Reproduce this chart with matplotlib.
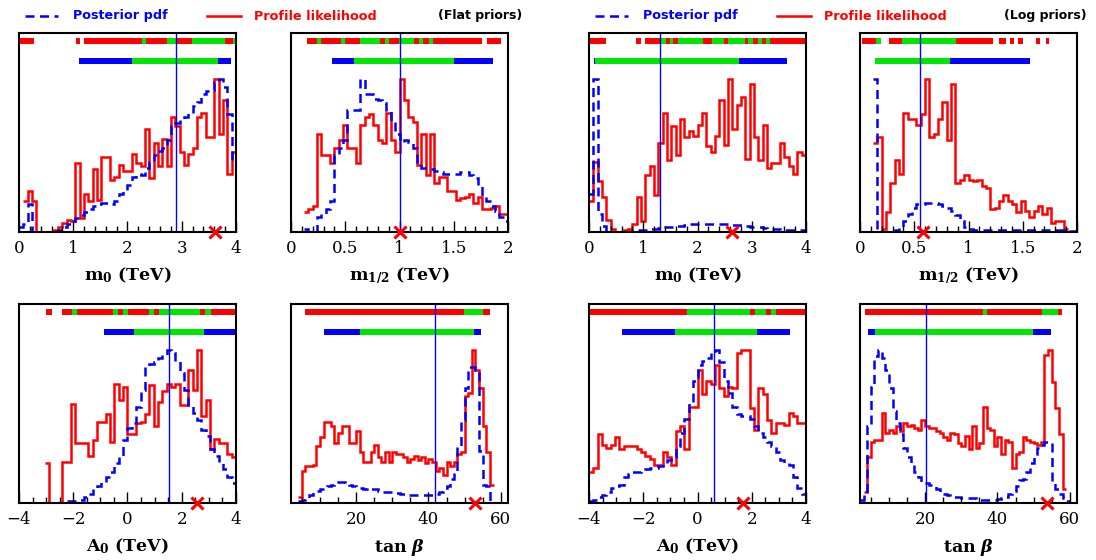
import numpy as np
import matplotlib.pyplot as plt
from matplotlib.lines import Line2D
from matplotlib.ticker import MultipleLocator

# ---------------- data: flat priors ----------------
# m0 (TeV), 50 bins on [0, 4]
m0_flat_pdf = [0.03, 0.05, 0.18, 0, 0, 0, 0, 0, 0, 0.01,
               0.03, 0.05, 0.07, 0.09, 0.11, 0.13, 0.15, 0.17, 0.18, 0.19,
               0.19, 0.18, 0.2, 0.25, 0.27, 0.31, 0.36, 0.38, 0.37, 0.42,
               0.46, 0.5, 0.53, 0.55, 0.6, 0.69, 0.71, 0.73, 0.75, 0.78,
               0.82, 0.85, 0.9, 0.92, 0.93, 0.98, 1.0, 0.95, 0.77, 0.45]
m0_flat_pl = [0, 0.2, 0.27, 0.2, 0, 0, 0, 0, 0.01, 0.03,
              0.06, 0.08, 0.07, 0.45, 0.09, 0.25, 0.2, 0.41, 0.21, 0.49,
              0.49, 0.34, 0.36, 0.44, 0.4, 0.4, 0.51, 0.45, 0.43, 0.67,
              0.35, 0.58, 0.43, 0.61, 0.43, 0.75, 0.69, 0.52, 0.44, 0.51,
              0.55, 0.75, 0.78, 0.62, 0.62, 1.0, 0.64, 0.86, 0.38, 0.52]

# m1/2 (TeV), 50 bins on [0, 2]
m12_flat_pdf = [0, 0, 0, 0.02, 0, 0, 0.1, 0.12, 0.15, 0.2,
                0.5, 0.55, 0.6, 0.8, 0.8, 0.8, 1.0, 0.9, 0.9, 0.87,
                0.86, 0.84, 0.8, 0.72, 0.64, 0.59, 0.6, 0.59, 0.55, 0.45,
                0.42, 0.42, 0.41, 0.4, 0.39, 0.38, 0.38, 0.38, 0.38, 0.39,
                0.39, 0.37, 0.35, 0.3, 0.23, 0.2, 0.17, 0.14, 0.1, 0.07]
m12_flat_pl = [0, 0, 0, 0.13, 0.15, 0.17, 0.64, 0.5, 0.5, 0.45,
               0.55, 0.6, 0.7, 0.55, 0.55, 0.45, 0.7, 0.75, 0.77, 0.7,
               0.6, 0.58, 0.78, 0.6, 0.52, 1.0, 0.86, 0.75, 0.72, 0.44,
               0.64, 0.37, 0.64, 0.32, 0.36, 0.36, 0.27, 0.27, 0.21, 0.22,
               0.23, 0.25, 0.19, 0.23, 0.15, 0.15, 0.16, 0.17, 0.12, 0.12]

# A0 (TeV), 50 bins on [-4, 4]
a0_flat_pdf = [0, 0, 0, 0, 0, 0, 0, 0, 0, 0,
               0, 0.01, 0.01, 0.015, 0.02, 0.04, 0.06, 0.09, 0.11, 0.14,
               0.17, 0.2, 0.26, 0.3, 0.41, 0.49, 0.52, 0.63, 0.74, 0.89,
               0.91, 0.92, 0.95, 0.97, 1.0, 0.98, 0.93, 0.85, 0.74, 0.64,
               0.59, 0.54, 0.48, 0.44, 0.35, 0.31, 0.27, 0.22, 0.17, 0.13]
a0_flat_pl = [0, 0, 0, 0, 0, 0, 0.26, 0, 0, 0,
              0.27, 0.27, 0.65, 0.39, 0.39, 0.39, 0.31, 0.41, 0.53, 0.53,
              0.58, 0.4, 0.78, 0.67, 0.76, 0.45, 0.45, 0.52, 0.53, 0.58,
              0.77, 0.5, 0.66, 0.73, 0.78, 0.76, 0.78, 0.64, 0.64, 0.87,
              0.74, 1.0, 0.57, 0.67, 0.35, 0.42, 0.39, 0.39, 0.32, 0.3]

# tan beta, 60 bins on [2, 62]
tb_flat_pdf = [0, 0, 0.01, 0.02, 0.03, 0.05, 0.07, 0.08, 0.09, 0.1,
               0.11, 0.12, 0.13, 0.14, 0.14, 0.13, 0.12, 0.11, 0.1, 0.1,
               0.09, 0.1, 0.09, 0.09, 0.08, 0.07, 0.07, 0.07, 0.065, 0.065,
               0.06, 0.06, 0.055, 0.05, 0.05, 0.05, 0.05, 0.05, 0.055, 0.055,
               0.06, 0.07, 0.1, 0.11, 0.16, 0.2, 0.37, 0.54, 0.75, 0.89,
               0.89, 0.87, 0.34, 0.12, 0.11, 0.01, 0, 0, 0, 0]
tb_flat_pl = [0, 0, 0.04, 0.21, 0.24, 0.24, 0.25, 0.37, 0.43, 0.53,
              0.53, 0.5, 0.39, 0.46, 0.5, 0.5, 0.39, 0.39, 0.47, 0.33,
              0.27, 0.27, 0.33, 0.38, 0.3, 0.27, 0.33, 0.27, 0.33, 0.32,
              0.32, 0.3, 0.27, 0.29, 0.31, 0.28, 0.3, 0.26, 0.29, 0.27,
              0.21, 0.23, 0.18, 0.27, 0.24, 0.27, 0.32, 0.33, 0.7, 0.72,
              1.0, 0.87, 0.75, 0.5, 0.33, 0.12, 0, 0, 0, 0]

# ---------------- data: log priors ----------------
m0_log_pdf = [0.25, 1.0, 0.12, 0.04, 0, 0, 0, 0, 0, 0,
              0.005, 0.01, 0.01, 0.015, 0.02, 0.02, 0.025, 0.03, 0.03, 0.035,
              0.04, 0.04, 0.045, 0.05, 0.055, 0.055, 0.055, 0.055, 0.055, 0.05,
              0.05, 0.05, 0.05, 0.045, 0.045, 0.045, 0.04, 0.035, 0.035, 0.03,
              0.025, 0.02, 0.02, 0.02, 0.015, 0.015, 0.015, 0.01, 0.01, 0.01]
m0_log_pl = [0.2, 0.46, 0.33, 0.23, 0.08, 0.02, 0, 0, 0.01, 0.02,
             0.05, 0.23, 0.07, 0.37, 0.43, 0.24, 0.58, 0.78, 0.47, 0.69,
             0.5, 0.74, 0.62, 0.66, 0.63, 0.7, 0.78, 0.56, 0.52, 0.63,
             0.86, 0.57, 1.0, 0.67, 0.83, 0.88, 0.48, 0.97, 0.62, 0.47,
             0.7, 0.42, 0.45, 0.45, 0.58, 0.49, 0.43, 0.38, 0.52, 0.5]

m12_log_pdf = [0, 0, 0, 1.0, 0.02, 0, 0, 0, 0.01, 0.03,
               0.07, 0.12, 0.16, 0.18, 0.18, 0.19, 0.19, 0.19, 0.18, 0.17,
               0.16, 0.14, 0.11, 0.07, 0.03, 0.02, 0.015, 0.015, 0.015, 0.015,
               0.015, 0.015, 0.015, 0.015, 0.015, 0.015, 0.015, 0.015, 0.01, 0.01,
               0.01, 0.01, 0.01, 0.01, 0.01, 0.01, 0.01, 0.005, 0.005, 0.005]
m12_log_pl = [0, 0, 0, 0.58, 0.62, 0.02, 0.13, 0.32, 0.47, 0.38,
              0.78, 0.74, 0.74, 0.7, 0.77, 1.0, 0.62, 0.64, 0.74, 0.85,
              0.6, 0.97, 0.32, 0.34, 0.37, 0.34, 0.33, 0.34, 0.3, 0.29,
              0.15, 0.16, 0.2, 0.24, 0.2, 0.18, 0.13, 0.2, 0.14, 0.1,
              0.14, 0.17, 0.12, 0.16, 0.06, 0.07, 0.07, 0.02, 0, 0]

a0_log_pdf = [0.01, 0.02, 0.04, 0.05, 0.07, 0.1, 0.11, 0.12, 0.17, 0.19,
              0.2, 0.2, 0.21, 0.22, 0.23, 0.23, 0.24, 0.26, 0.28, 0.3,
              0.37, 0.46, 0.55, 0.66, 0.8, 0.9, 0.93, 0.95, 0.99, 1.0,
              0.92, 0.8, 0.72, 0.63, 0.58, 0.57, 0.57, 0.55, 0.5, 0.46,
              0.43, 0.4, 0.37, 0.33, 0.28, 0.26, 0.25, 0.17, 0.1, 0.06]
a0_log_pl = [0.2, 0.23, 0.45, 0.38, 0.36, 0.38, 0.43, 0.35, 0.37, 0.37,
             0.37, 0.35, 0.33, 0.31, 0.29, 0.25, 0.25, 0.33, 0.3, 0.25,
             0.47, 0.5, 0.35, 0.63, 0.63, 0.87, 0.71, 0.8, 0.78, 0.9,
             0.75, 0.7, 0.76, 0.75, 0.98, 1.0, 1.0, 0.62, 0.48, 0.75,
             0.71, 0.54, 0.46, 0.52, 0.52, 0.51, 0.59, 0.57, 0.52, 0.52]

tb_log_pdf = [0.02, 0.06, 0.5, 0.76, 0.96, 1.0, 0.95, 0.87, 0.75, 0.6,
              0.52, 0.45, 0.36, 0.3, 0.26, 0.2, 0.17, 0.14, 0.13, 0.12,
              0.11, 0.09, 0.07, 0.06, 0.05, 0.045, 0.04, 0.04, 0.035, 0.03,
              0.03, 0.03, 0.025, 0.02, 0.02, 0.02, 0.02, 0.02, 0.025, 0.03,
              0.04, 0.06, 0.08, 0.11, 0.15, 0.16, 0.2, 0.26, 0.32, 0.36,
              0.38, 0.4, 0.39, 0.13, 0.09, 0.06, 0.03, 0.01, 0, 0]
tb_log_pl = [0, 0.07, 0.3, 0.4, 0.41, 0.41, 0.59, 0.46, 0.48, 0.46,
             0.5, 0.47, 0.52, 0.5, 0.51, 0.49, 0.48, 0.54, 0.5, 0.49,
             0.49, 0.47, 0.46, 0.43, 0.41, 0.46, 0.45, 0.39, 0.37, 0.44,
             0.35, 0.5, 0.36, 0.39, 0.63, 0.49, 0.48, 0.37, 0.43, 0.32,
             0.41, 0.4, 0.23, 0.32, 0.33, 0.43, 0.41, 0.4, 0.39, 0.38,
             0.4, 0.97, 1.0, 0.79, 0.62, 0.45, 0.09, 0, 0, 0]

# credible / confidence intervals: (low, high, level %)
m0_flat_pl_int = [(0.02, 0.28, 95), (1.05, 1.13, 95), (1.20, 2.26, 95), (2.26, 2.34, 68),
                  (2.34, 2.73, 95), (2.73, 2.89, 68), (2.89, 3.18, 95), (3.18, 3.80, 68),
                  (3.80, 3.95, 95), (3.95, 3.98, 68)]
m0_flat_pdf_int = [(1.11, 2.08, 95), (2.08, 3.67, 68), (3.67, 3.91, 95)]
m12_flat_pl_int = [(0.149, 0.241, 95), (0.241, 0.279, 68), (0.279, 0.464, 95), (0.464, 0.502, 68),
                   (0.502, 0.638, 95), (0.638, 0.824, 68), (0.824, 0.870, 95), (0.870, 0.907, 68),
                   (0.907, 0.997, 95), (0.997, 1.133, 68), (1.133, 1.180, 95), (1.180, 1.217, 68),
                   (1.217, 1.269, 95), (1.269, 1.313, 68), (1.313, 1.759, 95), (1.805, 1.938, 95)]
m12_flat_pdf_int = [(0.378, 0.582, 95), (0.582, 1.498, 68), (1.498, 1.864, 95)]
a0_flat_pl_int = [(-3.0, -2.8, 95), (-2.43, -2.06, 95), (-2.06, -1.85, 68), (-1.85, -0.52, 95),
                  (-0.52, -0.34, 68), (-0.34, -0.15, 95), (-0.15, 0.03, 68), (0.03, 0.79, 95),
                  (0.79, 0.98, 68), (0.98, 1.16, 95), (1.16, 2.67, 68), (2.67, 2.86, 95),
                  (2.86, 3.07, 68), (3.07, 3.96, 95)]
a0_flat_pdf_int = [(-0.85, 0.24, 95), (0.24, 2.82, 68), (2.82, 3.96, 95)]
tb_flat_pl_int = [(5.8, 49.8, 95), (49.8, 55.0, 68), (55.0, 57.0, 95)]
tb_flat_pdf_int = [(11.1, 21.2, 95), (21.2, 52.7, 68), (52.7, 54.6, 95)]

m0_log_pl_int = [(0.01, 0.32, 95), (0.875, 0.95, 95), (1.03, 1.325, 95), (1.325, 1.42, 68),
                 (1.42, 1.49, 95), (1.49, 1.55, 68), (1.55, 1.645, 95), (1.645, 2.11, 68),
                 (2.11, 2.26, 95), (2.26, 2.48, 68), (2.48, 2.57, 95), (2.57, 2.88, 68),
                 (2.88, 2.94, 95), (2.94, 3.03, 68), (3.03, 3.11, 95), (3.11, 3.19, 68),
                 (3.19, 3.26, 95), (3.26, 3.33, 68), (3.33, 3.99, 95)]
m0_log_pdf_int = [(0.086, 0.117, 95), (0.117, 2.77, 68), (2.77, 3.65, 95)]
m12_log_pl_int = [(0.015, 0.148, 95), (0.148, 0.19, 68), (0.268, 0.385, 95), (0.385, 0.886, 68),
                  (0.886, 1.23, 95), (1.277, 1.348, 95), (1.385, 1.415, 95), (1.46, 1.50, 95),
                  (1.625, 1.66, 95), (1.71, 1.74, 95)]
m12_log_pdf_int = [(0.138, 0.83, 68), (0.83, 1.563, 95)]
a0_log_pl_int = [(-3.98, -0.38, 95), (-0.38, 1.94, 68), (1.94, 2.13, 95), (2.13, 2.53, 68),
                 (2.53, 2.71, 95), (2.71, 2.90, 68), (2.90, 3.97, 95)]
a0_log_pdf_int = [(-2.79, -0.83, 95), (-0.83, 2.21, 68), (2.21, 3.42, 95)]
tb_log_pl_int = [(3.4, 36.0, 95), (36.0, 37.1, 68), (37.1, 52.4, 95), (52.4, 56.85, 68),
                 (56.85, 57.8, 95)]
tb_log_pdf_int = [(4.35, 6.2, 95), (6.2, 49.9, 68), (49.9, 54.7, 95)]

# posterior mean (blue line) and best fit (red cross)
post_mean = [2.9, 1.0, 1.54, 41.7, 1.31, 0.554, 0.60, 20.3]
best_fit = [3.61, 1.0, 2.57, 52.9, 2.63, 0.585, 1.69, 53.6]

xlabels = [r"m$_{\mathbf{0}}$ (TeV)", r"m$_{\mathbf{1/2}}$ (TeV)",
           r"A$_{\mathbf{0}}$ (TeV)", r"tan $\boldsymbol{\beta}$"]

RED = "#ff0000"
BLUE = "#0000ff"
GREEN = "#00e600"
DASH = (0, (3.6, 2.2))

# (xlim, major, minor) per parameter
axes_spec = {
    "m0": ((0, 4), 1, 0.2),
    "m12": ((0, 2), 0.5, 0.1),
    "a0": ((-4, 4), 2, 0.5),
    "tb": ((2, 62), 20, 5),
}

panels = [
    # flat priors
    ("m0", m0_flat_pdf, m0_flat_pl, m0_flat_pdf_int, m0_flat_pl_int, 0, 0),
    ("m12", m12_flat_pdf, m12_flat_pl, m12_flat_pdf_int, m12_flat_pl_int, 1, 1),
    ("a0", a0_flat_pdf, a0_flat_pl, a0_flat_pdf_int, a0_flat_pl_int, 2, 2),
    ("tb", tb_flat_pdf, tb_flat_pl, tb_flat_pdf_int, tb_flat_pl_int, 3, 3),
    # log priors
    ("m0", m0_log_pdf, m0_log_pl, m0_log_pdf_int, m0_log_pl_int, 4, 0),
    ("m12", m12_log_pdf, m12_log_pl, m12_log_pdf_int, m12_log_pl_int, 5, 1),
    ("a0", a0_log_pdf, a0_log_pl, a0_log_pdf_int, a0_log_pl_int, 6, 2),
    ("tb", tb_log_pdf, tb_log_pl, tb_log_pdf_int, tb_log_pl_int, 7, 3),
]

plt.rcParams["mathtext.fontset"] = "dejavuserif"
plt.rcParams["mathtext.default"] = "bf"

W, H = 1096, 560
fig = plt.figure(figsize=(W / 100, H / 100), dpi=100)

col_left = [19, 291, 589, 860]
row_top = [33, 304]
pw, ph = 217, 199


def draw_steps(ax, vals, edges, **kw):
    vals = np.asarray(vals, dtype=float)
    nz = np.nonzero(vals)[0]
    i0, i1 = nz[0], nz[-1] + 1
    ax.stairs(vals[i0:i1], edges[i0:i1 + 1], baseline=None, **kw)


def draw_bar(ax, intervals, y, wide_color):
    for lo, hi, lev in intervals:
        c = GREEN if lev == 68 else wide_color
        ax.plot([lo, hi], [y, y], color=c, lw=4.3, solid_capstyle="butt",
                transform=ax.get_xaxis_transform(), clip_on=False)


for key, pdf, pl, pdf_int, pl_int, idx, lab in panels:
    prior = idx // 4
    pos = idx % 4
    row = pos // 2
    col = (pos % 2) + 2 * prior
    left = col_left[col] / W
    bottom = 1 - (row_top[row] + ph) / H
    ax = fig.add_axes([left, bottom, pw / W, ph / H])

    (x0, x1), major, minor = axes_spec[key]
    edges = np.linspace(x0, x1, len(pdf) + 1)

    draw_steps(ax, pl, edges, color=RED, lw=1.8)
    draw_steps(ax, pdf, edges, color=BLUE, lw=1.8, linestyle=DASH)

    draw_bar(ax, pl_int, 0.96, RED)
    draw_bar(ax, pdf_int, 0.86, BLUE)

    ax.axvline(post_mean[idx], color=BLUE, lw=1.0)
    ax.plot(best_fit[idx], 0, marker="x", color=RED, ms=9, mew=2.2,
            clip_on=False, zorder=5)

    ax.set_xlim(x0, x1)
    ax.set_ylim(0, 1.3)
    ax.xaxis.set_major_locator(MultipleLocator(major))
    ax.xaxis.set_minor_locator(MultipleLocator(minor))
    ax.tick_params(axis="x", which="major", direction="in", length=8, width=1,
                   top=False, labelsize=12, pad=6)
    ax.tick_params(axis="x", which="minor", direction="in", length=4, width=1,
                   top=False)
    ax.set_yticks([])
    for lbl in ax.get_xticklabels():
        lbl.set_fontfamily("DejaVu Serif")
    if key == "m12":
        ax.set_xticks([0, 0.5, 1, 1.5, 2])
        ax.set_xticklabels(["0", "0.5", "1", "1.5", "2"], fontfamily="DejaVu Serif")
    if key == "tb":
        ax.set_xticks([20, 40, 60])
        ax.set_xticklabels(["20", "40", "60"], fontfamily="DejaVu Serif")
    for s in ax.spines.values():
        s.set_linewidth(1.5)
    ax.set_xlabel(xlabels[lab], fontsize=12.5, fontfamily="DejaVu Serif",
                  fontweight="bold", labelpad=6)

# legend-like header in each half
for dx, prior_txt in [(0, "(Flat priors)"), (570, "(Log priors)")]:
    yl = 1 - 16 / H
    fig.add_artist(Line2D([(25 + dx) / W, (58 + dx) / W], [yl, yl], color=BLUE,
                          lw=1.8, linestyle=DASH))
    fig.text((73 + dx) / W, yl, "Posterior pdf", color=BLUE, fontsize=9.2,
             fontweight="bold", va="center", ha="left")
    fig.add_artist(Line2D([(207 + dx) / W, (241 + dx) / W], [yl, yl], color=RED, lw=1.8))
    fig.text((254 + dx) / W, yl, "Profile likelihood", color=RED, fontsize=9.2,
             fontweight="bold", va="center", ha="left")
    fig.text((522 + dx * 0.99) / W, yl, prior_txt, color="black", fontsize=9,
             fontweight="bold", va="center", ha="right")

fig.savefig("out.png", dpi=100)
